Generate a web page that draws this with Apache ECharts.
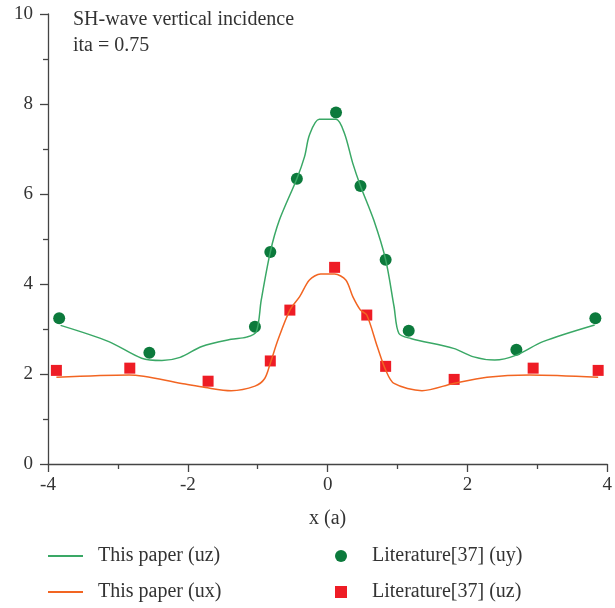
<!DOCTYPE html>
<html>
<head>
<meta charset="utf-8">
<script src="https://cdn.jsdelivr.net/npm/echarts@6/dist/echarts.min.js"></script>
<style>
  html, body { margin: 0; padding: 0; background: #fff; }
  #chart { width: 615px; height: 608px; }
</style>
</head>
<body>
<div id="chart"></div>
<script>
// this paper (uz) - smooth curve
var paperUz = [
  [-3.82, 3.08], [-3.13, 2.72], [-2.66, 2.35], [-2.37, 2.30], [-2.11, 2.37],
  [-1.80, 2.61], [-1.38, 2.77], [-1.16, 2.82], [-1.02, 2.94], [-0.95, 3.64],
  [-0.82, 4.71], [-0.69, 5.42], [-0.44, 6.34], [-0.33, 6.83], [-0.26, 7.31],
  [-0.12, 7.66], [0.12, 7.66], [0.24, 7.35], [0.36, 6.68], [0.47, 6.18],
  [0.66, 5.42], [0.83, 4.54], [0.95, 3.50], [1.02, 2.90], [1.19, 2.79],
  [1.80, 2.57], [2.09, 2.38], [2.39, 2.31], [2.70, 2.42], [3.08, 2.72],
  [3.82, 3.09]
];
// this paper (ux)
var paperUx = [
  [-3.88, 1.93], [-2.84, 1.98], [-2.09, 1.79], [-1.75, 1.70], [-1.38, 1.63],
  [-1.04, 1.73], [-0.90, 1.90], [-0.82, 2.24], [-0.71, 2.76], [-0.54, 3.42],
  [-0.40, 3.72], [-0.26, 4.09], [-0.10, 4.22], [0.10, 4.22], [0.26, 4.09],
  [0.36, 3.72], [0.47, 3.42], [0.56, 3.31], [0.71, 2.61], [0.83, 2.09],
  [0.95, 1.79], [1.35, 1.63], [1.80, 1.79], [2.28, 1.93], [2.89, 1.98],
  [3.87, 1.93]
];
// Literature[37] (uy) - circles
var litUy = [
  [-3.84, 3.24], [-2.55, 2.47], [-1.04, 3.05], [-0.82, 4.71], [-0.44, 6.34],
  [0.12, 7.81], [0.47, 6.18], [0.83, 4.54], [1.16, 2.96], [2.70, 2.54],
  [3.83, 3.24]
];
// Literature[37] (uz) - squares
var litUz = [
  [-3.88, 2.08], [-2.83, 2.13], [-1.71, 1.84], [-0.82, 2.29], [-0.54, 3.42],
  [0.10, 4.37], [0.56, 3.31], [0.83, 2.17], [1.81, 1.88], [2.94, 2.13],
  [3.87, 2.08]
];

var serif = "'Liberation Serif', 'DejaVu Serif', serif";
var axisColor = "#444";
var textColor = "#333";

var chart = echarts.init(document.getElementById("chart"));
chart.setOption({
  animation: false,
  grid: { left: 48, right: 4, top: 14, bottom: 144 },
  textStyle: { fontFamily: serif },
  graphic: [
    { type: "text", left: 73, top: 10,
      style: { text: "SH-wave vertical incidence", font: "20px " + serif, fill: textColor } },
    { type: "text", left: 73, top: 36,
      style: { text: "ita = 0.75", font: "20px " + serif, fill: textColor } }
  ],
  legend: [
    {
      orient: "vertical", left: 48, top: 546, height: 60, padding: 0, itemGap: 16,
      itemWidth: 35, itemHeight: 2, icon: "rect",
      textStyle: { fontFamily: serif, fontSize: 20, lineHeight: 20, color: textColor, padding: [0, 0, 0, 10] },
      data: ["This paper (uz)", "This paper (ux)"]
    },
    {
      orient: "vertical", left: 335, top: 546, height: 60, padding: 0, itemGap: 16,
      itemWidth: 12, itemHeight: 12,
      textStyle: { fontFamily: serif, fontSize: 20, lineHeight: 20, color: textColor, padding: [0, 0, 0, 20] },
      data: [
        { name: "Literature[37] (uy)", icon: "circle" },
        { name: "Literature[37] (uz)", icon: "rect" }
      ]
    }
  ],
  xAxis: {
    type: "value", min: -4, max: 4, interval: 2,
    name: "x (a)", nameLocation: "middle", nameGap: 45,
    nameTextStyle: { fontFamily: serif, fontSize: 20, color: textColor },
    axisLine: { onZero: false, lineStyle: { color: axisColor, width: 1.3 } },
    axisTick: { length: 8, lineStyle: { color: axisColor, width: 1.3 } },
    minorTick: { show: true, splitNumber: 2, length: 5, lineStyle: { color: axisColor, width: 1.3 } },
    axisLabel: { fontFamily: serif, fontSize: 19, color: textColor, margin: 12 },
    splitLine: { show: false }
  },
  yAxis: {
    type: "value", min: 0, max: 10, interval: 2,
    axisLine: { show: true, onZero: false, lineStyle: { color: axisColor, width: 1.3 } },
    axisTick: { show: true, length: 8, lineStyle: { color: axisColor, width: 1.3 } },
    minorTick: { show: true, splitNumber: 2, length: 5, lineStyle: { color: axisColor, width: 1.3 } },
    axisLabel: { fontFamily: serif, fontSize: 19, color: textColor, margin: 15 },
    splitLine: { show: false }
  },
  series: [
    {
      name: "This paper (uz)", type: "line", data: paperUz,
      smooth: 0.3, symbol: "none", showSymbol: false,
      lineStyle: { color: "#3aa866", width: 1.5 }, itemStyle: { color: "#3aa866" }
    },
    {
      name: "This paper (ux)", type: "line", data: paperUx,
      smooth: 0.3, symbol: "none", showSymbol: false,
      lineStyle: { color: "#f26522", width: 1.5 }, itemStyle: { color: "#f26522" }
    },
    {
      name: "Literature[37] (uy)", type: "scatter", data: litUy,
      symbol: "circle", symbolSize: 12, itemStyle: { color: "#0c7a3c", opacity: 1 }
    },
    {
      name: "Literature[37] (uz)", type: "scatter", data: litUz,
      symbol: "rect", symbolSize: 11, itemStyle: { color: "#ee1c25", opacity: 1 }
    }
  ]
});
</script>
</body>
</html>
